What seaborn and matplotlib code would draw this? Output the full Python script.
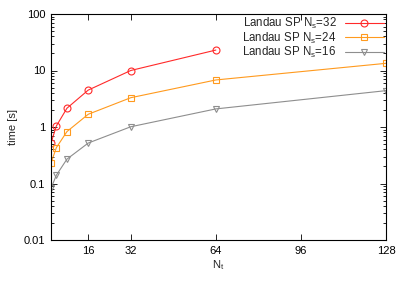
import pandas as pd
import matplotlib
matplotlib.use("Agg")
import matplotlib.pyplot as plt
import matplotlib.ticker as mticker
import seaborn as sns

# valori
nt_32 = [2, 4, 8, 16, 32, 64]
t_32 = [0.52, 1.04, 2.15, 4.5, 10.0, 23.0]
nt_24 = [2, 4, 8, 16, 32, 64, 128]
t_24 = [0.23, 0.43, 0.83, 1.68, 3.3, 6.8, 13.4]
nt_16 = [2, 4, 8, 16, 32, 64, 128]
t_16 = [0.082, 0.14, 0.27, 0.52, 1.01, 2.09, 4.4]

labels = ["Landau SP N$_s$=32", "Landau SP N$_s$=24", "Landau SP N$_s$=16"]
colori = ["#ff2a2a", "#ff9a1e", "#8e8e8e"]
marcatori = ["o", "s", "v"]

df = pd.concat([
    pd.DataFrame({"Nt": nt_32, "time": t_32, "serie": labels[0]}),
    pd.DataFrame({"Nt": nt_24, "time": t_24, "serie": labels[1]}),
    pd.DataFrame({"Nt": nt_16, "time": t_16, "serie": labels[2]}),
])

sns.set_style("ticks")
plt.rcParams["font.family"] = ["Liberation Sans", "DejaVu Sans"]
plt.rcParams["mathtext.default"] = "regular"
plt.rcParams["font.size"] = 8

fig = plt.figure(figsize=(4.07, 2.85), dpi=100)
ax = fig.add_axes([51/407, 1-240/285, (386-51)/407, (240-14)/285])

sns.lineplot(data=df, x="Nt", y="time", hue="serie", style="serie",
             palette=colori, markers=marcatori, dashes=False,
             linewidth=0.8, markersize=5, ax=ax, legend=False)

for line, c in zip(ax.lines, colori):
    line.set_markerfacecolor("none")
    line.set_markeredgecolor(c)
    line.set_markeredgewidth(0.8)

ax.set_yscale("log")
ax.set_xlim(2, 128)
ax.set_ylim(0.01, 100)
ax.set_xticks([16, 32, 64, 96, 128])
ax.xaxis.set_minor_locator(mticker.NullLocator())
ax.yaxis.set_major_formatter(mticker.FuncFormatter(lambda v, p: f"{v:g}"))
ax.yaxis.set_minor_locator(mticker.LogLocator(subs=range(2, 10)))
ax.yaxis.set_minor_formatter(mticker.NullFormatter())
ax.tick_params(which="both", direction="in", top=True, right=True,
               width=0.6, labelsize=8, colors="black", pad=4)
ax.tick_params(which="major", length=4)
ax.tick_params(which="minor", length=2)
for s in ax.spines.values():
    s.set_linewidth(0.8)
    s.set_visible(True)
    s.set_color("black")

ax.set_xlabel("N$_t$", fontsize=8, labelpad=2)
ax.set_ylabel("time [s]", fontsize=8, labelpad=4)

ax.legend(ax.lines, labels, loc="upper right", frameon=False,
          markerfirst=False, handlelength=3.4, fontsize=8.3,
          borderaxespad=0.0, borderpad=0.2, labelspacing=-0.08,
          handletextpad=0.7)

plt.savefig("out.png", dpi=100)
